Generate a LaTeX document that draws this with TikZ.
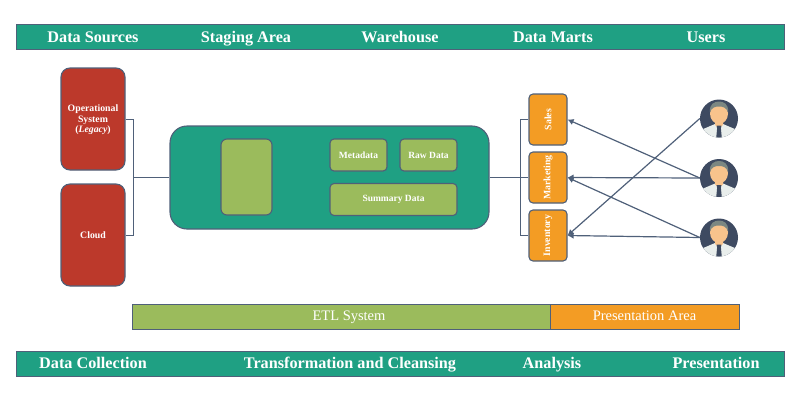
\documentclass[tikz,border=0pt]{standalone}
\usepackage{fontspec}
\setmainfont{Liberation Serif}
\definecolor{teal}{HTML}{1FA083}
\definecolor{redb}{HTML}{BC392B}
\definecolor{leaf}{HTML}{9BBB5C}
\definecolor{orng}{HTML}{F39C24}
\definecolor{edge}{HTML}{4F6079}
\definecolor{navy}{HTML}{3E4A61}
\definecolor{skin}{HTML}{F8C38C}
\definecolor{hair}{HTML}{7B8782}
\definecolor{shirt}{HTML}{E9EEEC}
\usetikzlibrary{arrows.meta,calc}
\tikzset{
 x=1pt,y=-1pt,
 boxbase/.style={draw=edge,line width=1.1pt,text=white,inner sep=0pt,font=\bfseries},
 banner/.style={boxbase,fill=teal,minimum height=25pt,minimum width=768pt,anchor=north west},
 bannertext/.style={text=white,font=\bfseries\fontsize{16.2}{18}\selectfont,inner sep=0pt,text height=11pt,text depth=3pt},
 redbox/.style={boxbase,fill=redb,rounded corners=9pt,minimum width=64pt,minimum height=102pt},
 redtext/.style={text=white,inner sep=0pt,align=center,font=\bfseries\fontsize{9.8}{10.5}\selectfont},
 leafbox/.style={boxbase,fill=leaf,rounded corners=4pt,font=\bfseries\fontsize{9.5}{10}\selectfont},
 martbox/.style={boxbase,fill=orng,rounded corners=4pt,minimum width=38pt,minimum height=51pt,font=\bfseries\fontsize{9.8}{10}\selectfont},
 band/.style={draw=edge,line width=0.9pt,text=white,minimum height=25pt,inner sep=0pt,font=\fontsize{15}{16}\selectfont,text height=10pt,text depth=3pt},
 bandtext/.style={text=white,inner sep=0pt,font=\fontsize{14.5}{16}\selectfont,text height=10pt,text depth=3pt},
 wire/.style={draw=edge,line width=1pt},
 arrowline/.style={draw=edge,line width=1.2pt,-{Latex[length=6pt,width=6.5pt]}},
 persondisc/.style={circle,fill=navy,minimum size=38pt,inner sep=0pt},
}
\newcommand{\personpic}[1]{%
 \begin{scope}[shift={(#1)}]
  \clip (0,0) circle (19);
  \fill[shirt] (-17,19.5) -- (-17,11) -- (-4,5.5) -- (4,5.5) -- (17,11) -- (17,19.5) -- cycle;
  \fill[skin] (-4,2) -- (4,2) -- (4,6.5) -- (0,10) -- (-4,6.5) -- cycle;
  \fill[skin] (0,-5) ellipse (9 and 10.5);
  \fill[hair] (-9,-6) .. controls (-10,-15) and (-4,-17) .. (0,-17) .. controls (4,-17) and (10,-15) .. (9,-6) .. controls (7.5,-11) and (4,-12) .. (0,-12) .. controls (-4,-12) and (-7.5,-11) .. (-9,-6) -- cycle;
  \fill[navy] (-2.4,7) -- (2.4,7) -- (1.9,10) -- (2.8,19.5) -- (-2.8,19.5) -- (-1.9,10) -- cycle;
 \end{scope}}
\begin{document}
\begin{tikzpicture}
\useasboundingbox (0,0) rectangle (800,400);
% banners
\node[banner] (top) at (16,24) {};
\node[banner] (bot) at (16,351) {};
\node[bannertext] (t1) at (93,38) {Data Sources};
\node[bannertext] (t2) at (246,38) {Staging Area};
\node[bannertext] (t3) at (400,38) {Warehouse};
\node[bannertext] (t4) at (553,38) {Data Marts};
\node[bannertext] (t5) at (706,38) {Users};
\node[bannertext] (b1) at (93,364) {Data Collection};
\node[bannertext] (b2) at (350,364) {Transformation and Cleansing};
\node[bannertext] (b3) at (552,364) {Analysis};
\node[bannertext] (b4) at (716,364) {Presentation};
% sources
\node[redbox] (op) at (93,119) {};
\node[redtext] (optext) at (93,120) {Operational\\System\\(\textit{Legacy})};
\node[redbox] (cloud) at (93,235) {};
\node[redtext] (cloudtext) at (93,235) {Cloud};
% warehouse
\node[boxbase,fill=teal,rounded corners=17pt,minimum width=319pt,minimum height=103pt] (wh) at (329.5,177.5) {};
\node[leafbox,minimum width=51pt,minimum height=76pt,rounded corners=6pt] (stage) at (246.5,177) {};
\node[leafbox,minimum width=57pt,minimum height=32pt] (meta) at (358.5,155) {Metadata};
\node[leafbox,minimum width=57pt,minimum height=32pt] (raw) at (428.5,155) {Raw Data};
\node[leafbox,minimum width=127pt,minimum height=32pt] (sum) at (393.5,199.5) {Summary Data};
% marts
\node[martbox] (sales) at (548,119.5) {\rotatebox{90}{Sales}};
\node[martbox] (mkt) at (548,177.5) {\rotatebox{90}{Marketing}};
\node[martbox] (inv) at (548,235.5) {\rotatebox{90}{Inventory}};
% bands
\node[band,fill=leaf,minimum width=418pt] (etl) at (341,316.5) {};
\node[bandtext] (etltext) at (349,317) {ETL System};
\node[band,fill=orng,minimum width=189pt] (pres) at (644.5,316.5) {};
\node[bandtext] (prestext) at (644.5,317) {Presentation Area};
% wires
\coordinate (busl) at (133,177.5);
\coordinate (busr) at (520,177.5);
\draw[wire] (op.east) -| (busl);
\draw[wire] (cloud.east) -| (busl);
\draw[wire] (busl) -- (wh.west);
\draw[wire] (wh.east) -- (mkt.west);
\draw[wire] (sales.west) -| (busr);
\draw[wire] (inv.west) -| (busr);
% people
\node[persondisc] (p1) at (719,118.5) {};
\node[persondisc] (p2) at (719,178) {};
\node[persondisc] (p3) at (719,237.5) {};
\personpic{719,118.5}
\personpic{719,178}
\personpic{719,237.5}
% arrows
\draw[arrowline] (p2.west) -- (sales.east);
\draw[arrowline] (p2.west) -- (mkt.east);
\draw[arrowline] (p3.west) -- (mkt.east);
\draw[arrowline] (p3.west) -- (inv.east);
\draw[arrowline] (p1.west) -- (inv.east);
\end{tikzpicture}
\end{document}
